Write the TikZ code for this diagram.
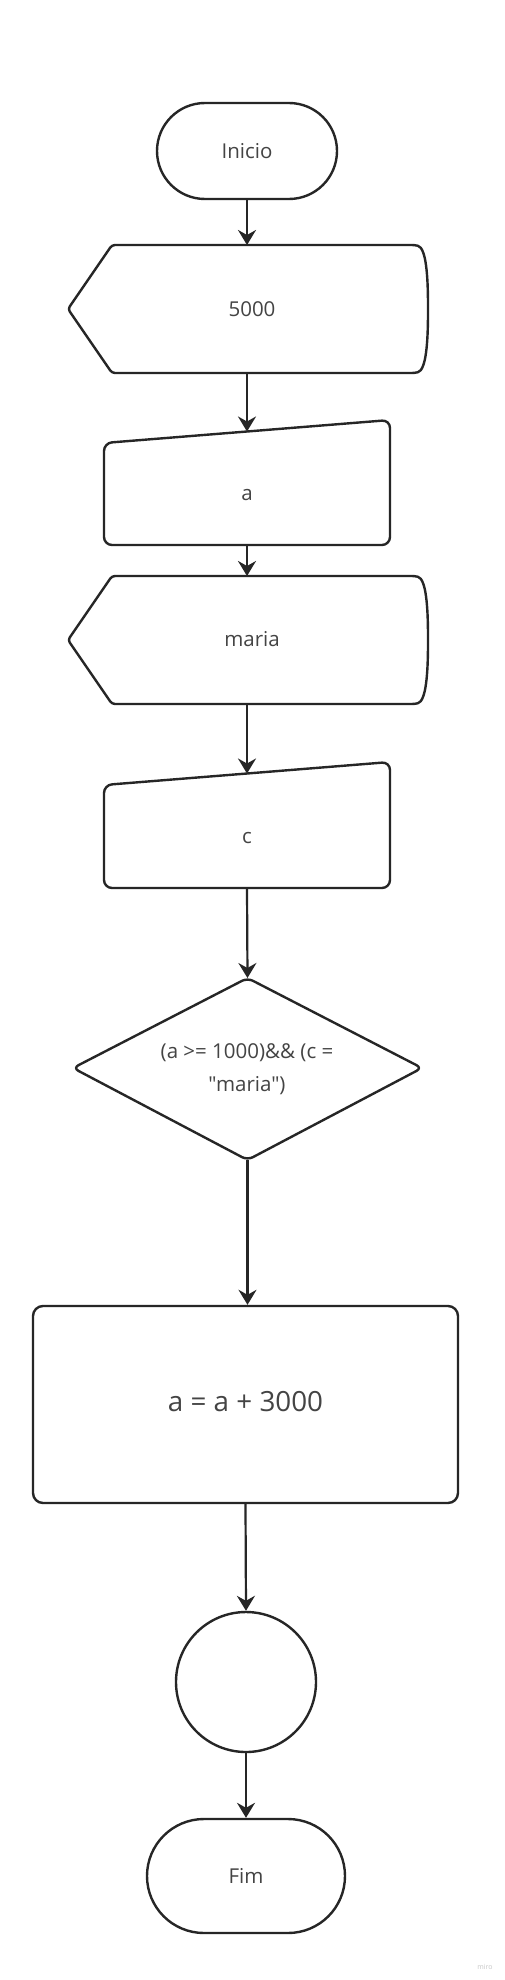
\documentclass[tikz,border=0pt]{standalone}
\usepackage{fontspec}
\setmainfont{Open Sans}[Ligatures=TeXOff]
\usetikzlibrary{arrows.meta,shapes.geometric}
\definecolor{ln}{HTML}{262626}
\definecolor{tx}{HTML}{444444}
\begin{document}
\begin{tikzpicture}[x=1pt,y=-1pt,
  shp/.style={draw=ln, line width=2.4pt, line join=round},
  lbl/.style={text=tx, font=\fontsize{20.5pt}{33pt}\selectfont, inner sep=0pt, align=center},
  conn/.style={draw=ln, line width=2.2pt, -{Stealth[length=15pt,width=18pt,inset=5pt]}},
]
\useasboundingbox[fill=white] (0,0) rectangle (504,1980);

% Inicio
\node[shp, lbl, rounded corners=48pt, minimum width=180pt, minimum height=96pt] (inicio) at (247,151) {Inicio};

% display 5000
\draw[shp, rounded corners=3pt] (112,245) -- (415,245) .. controls (426,248) and (428,275) .. (428,309) .. controls (428,343) and (426,370) .. (415,373) -- (112,373) -- (68,309) -- cycle;
\node[lbl] (d1) at (252,309) {5000};
\coordinate (d1top) at (247,245);
\coordinate (d1bot) at (247,373);

% manual input a
\draw[shp, rounded corners=8pt] (104,443) -- (390,420) -- (390,545) -- (104,545) -- cycle;
\node[lbl] (ma) at (247,495) {a};
\coordinate (matop) at (247,431.5);
\coordinate (mabot) at (247,545);

% display maria
\draw[shp, rounded corners=3pt] (112,576) -- (415,576) .. controls (426,579) and (428,606) .. (428,640) .. controls (428,674) and (426,701) .. (415,704) -- (112,704) -- (68,640) -- cycle;
\node[lbl] (d2) at (252,639) {maria};
\coordinate (d2top) at (247,576);
\coordinate (d2bot) at (247,704);

% manual input c
\draw[shp, rounded corners=8pt] (104,785) -- (390,762) -- (390,888) -- (104,888) -- cycle;
\node[lbl] (mc) at (247,838) {c};
\coordinate (mctop) at (247,773.5);
\coordinate (mcbot) at (247,888);

% decision
\draw[shp, rounded corners=6pt] (247.5,978) -- (422,1068) -- (247.5,1160) -- (73,1068) -- cycle;
\node[lbl] (dec) at (247,1069) {(a >= 1000)\&\& (c =\\"maria")};
\coordinate (dectop) at (247.5,978);
\coordinate (decbot) at (247.5,1160);

% process
\node[shp, rounded corners=10pt, minimum width=425pt, minimum height=197pt, inner sep=0pt] (proc) at (245.5,1404.5) {};
\node[text=tx, font=\fontsize{27.8pt}{33pt}\selectfont, inner sep=0pt] (proctxt) at (245.5,1402) {a = a + 3000};

% connector circle
\node[shp, circle, minimum size=140pt, inner sep=0pt] (circ) at (246,1682) {};

% Fim
\node[shp, lbl, rounded corners=57pt, minimum width=198pt, minimum height=114pt] (fim) at (246,1876) {Fim};

% watermark
\node[text=black!22, font=\fontsize{7pt}{8pt}\selectfont, inner sep=0pt] (miro) at (485,1967) {miro};

% connectors
\draw[conn] (inicio.south) -- (d1top);
\draw[conn] (d1bot) -- (matop);
\draw[conn] (mabot) -- (d2top);
\draw[conn] (d2bot) -- (mctop);
\draw[conn] (mcbot) -- (dectop);
\draw[conn] (decbot) -- (decbot |- proc.north);
\draw[conn] (proc.south) -- (circ.north);
\draw[conn] (circ.south) -- (fim.north);
\end{tikzpicture}
\end{document}
